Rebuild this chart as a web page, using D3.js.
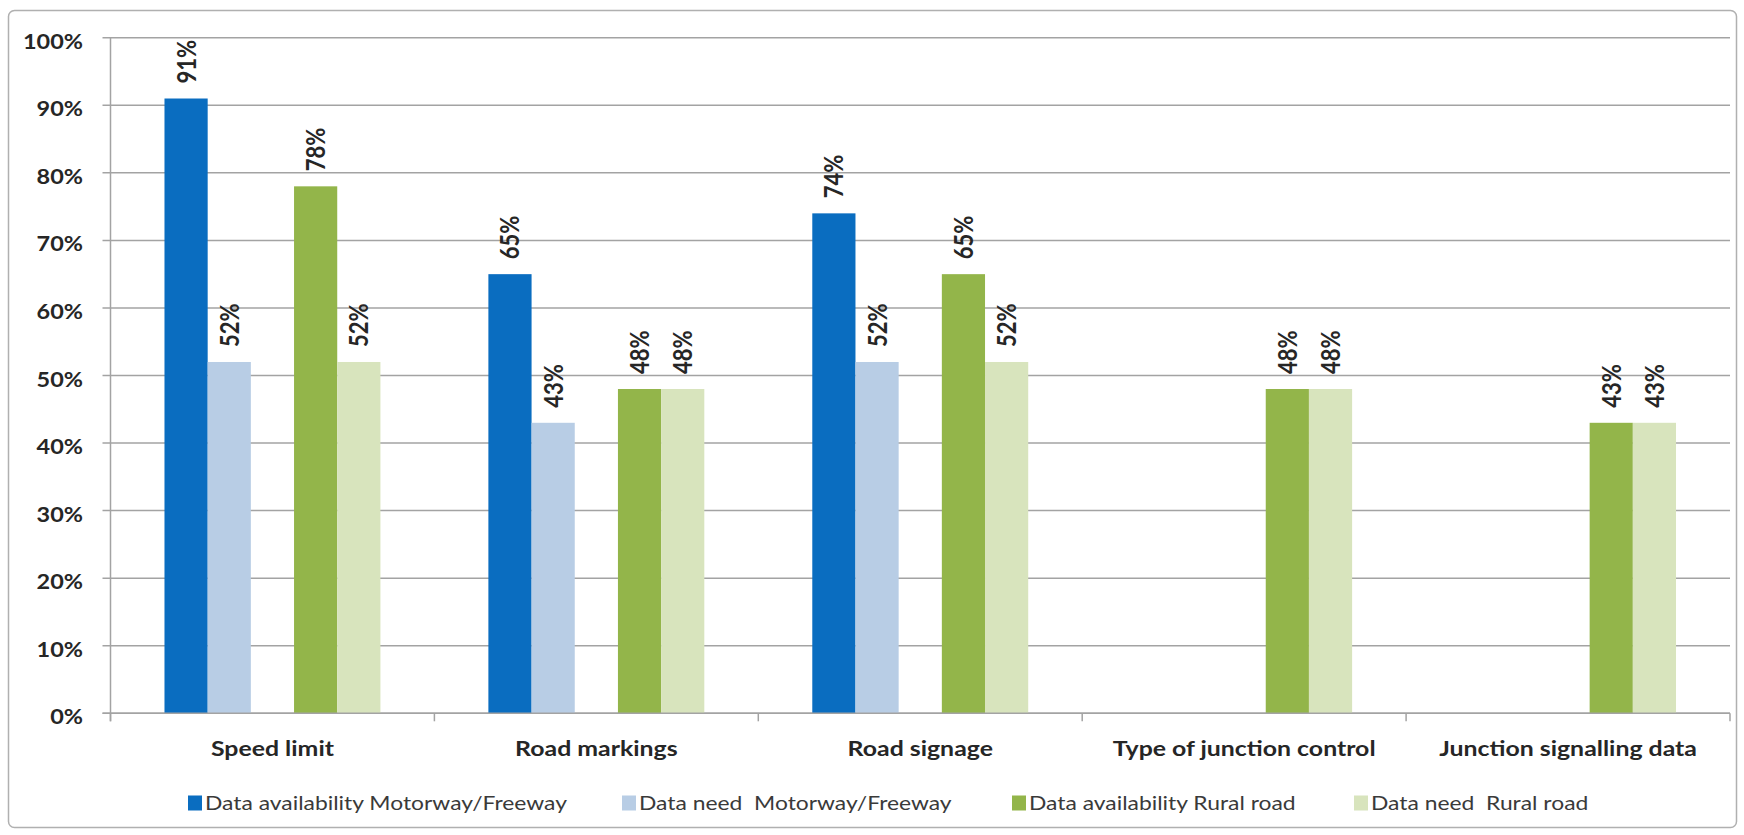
<!DOCTYPE html>
<html>
<head>
<meta charset="utf-8">
<script src="https://cdn.jsdelivr.net/npm/d3@7"></script>
<style>
  html, body { margin: 0; padding: 0; background: #fff; }
  svg { display: block; }
</style>
</head>
<body>
<svg id="chart" width="1744" height="835"></svg>
<script>
// Road data attributes: share of respondents with data available / needed
const categories = ["Speed limit", "Road markings", "Road signage", "Type of junction control", "Junction signalling data"];
const seriesNames = ["Data availability Motorway/Freeway", "Data need  Motorway/Freeway", "Data availability Rural road", "Data need  Rural road"];
const availMotorway = [91, 65, 74, null, null];
const needMotorway  = [52, 43, 52, null, null];
const availRural    = [78, 48, 65, 48, 43];
const needRural     = [52, 48, 52, 48, 43];
const yTicks = [0, 10, 20, 30, 40, 50, 60, 70, 80, 90, 100];
const seriesColors = ["#0a6dc0", "#b8cde5", "#93b54a", "#d8e4bd"];

const seriesValues = [availMotorway, needMotorway, availRural, needRural];
// slot order inside each category; the empty slot separates the two road types
const slots = ["s0", "s1", "gap", "s2", "s3"];
const slotOf = s => ["s0", "s1", "s2", "s3"][s];

const FONT = "Lato, 'Open Sans', sans-serif";
const svg = d3.select("#chart");
const margin = { left: 110.5, right: 1730, top: 37.7, bottom: 713.3 };

// widen a text horizontally so that it spans the given width
function widthFactor(sel, target) {
  const w = sel.node().getComputedTextLength();
  return w > 0 ? target / w : 1;
}

// outer frame
svg.append("rect")
  .attr("x", 8.5).attr("y", 10.5)
  .attr("width", 1728).attr("height", 817)
  .attr("rx", 6)
  .attr("fill", "none").attr("stroke", "#b0b0b0").attr("stroke-width", 1.5);

const x0 = d3.scaleBand().domain(categories).range([margin.left, margin.right]).padding(0);
const x1 = d3.scaleBand().domain(slots).range([0, x0.bandwidth()]).paddingInner(0).paddingOuter(1.25);
const y = d3.scaleLinear().domain([0, 100]).range([margin.bottom, margin.top]);

// horizontal gridlines
svg.append("g").selectAll("line").data(yTicks).join("line")
  .attr("x1", margin.left - 8).attr("x2", margin.right)
  .attr("y1", d => y(d)).attr("y2", d => y(d))
  .attr("stroke", "#a3a3a3").attr("stroke-width", 1.5);

// y axis labels
const yAxis = d3.axisLeft(y).tickValues(yTicks).tickFormat(d => d + "%").tickSize(0);
const gy = svg.append("g").attr("transform", `translate(${margin.left},0)`).call(yAxis);
gy.select(".domain").remove();
const yLabels = gy.selectAll("text")
  .attr("x", 0).attr("dy", null).attr("y", 0)
  .attr("dominant-baseline", "central")
  .attr("font-family", FONT)
  .attr("font-weight", "bold").attr("font-size", 21).attr("fill", "#262626");
const kY = widthFactor(yLabels.filter(d => d === 100), 60);
yLabels.attr("transform", `translate(-27.5,2.5) scale(${kY},1)`);

// vertical axis line
svg.append("line")
  .attr("x1", margin.left).attr("x2", margin.left)
  .attr("y1", margin.top).attr("y2", margin.bottom + 8)
  .attr("stroke", "#a3a3a3").attr("stroke-width", 1.5);

// bars
const bars = [];
categories.forEach((c, ci) => {
  seriesValues.forEach((vals, si) => {
    if (vals[ci] != null) bars.push({ cat: c, s: si, v: vals[ci] });
  });
});

svg.append("g").selectAll("rect").data(bars).join("rect")
  .attr("x", d => x0(d.cat) + x1(slotOf(d.s)))
  .attr("width", x1.bandwidth())
  .attr("y", d => y(d.v))
  .attr("height", d => y(0) - y(d.v))
  .attr("fill", d => seriesColors[d.s]);

// value labels, rotated to read upward
svg.append("g").selectAll("text").data(bars).join("text")
  .attr("transform", d => {
    const cx = x0(d.cat) + x1(slotOf(d.s)) + x1.bandwidth() / 2;
    return `translate(${cx + 9.5},${y(d.v) - 15}) rotate(-90) scale(1,1.25)`;
  })
  .attr("text-anchor", "start")
  .attr("font-family", FONT)
  .attr("font-weight", "bold").attr("font-size", 22).attr("fill", "#262626")
  .text(d => d.v + "%");

// x axis baseline, category ticks and labels
const xAxis = d3.axisBottom(x0).tickSize(0);
const gx = svg.append("g").attr("transform", `translate(0,${margin.bottom})`).call(xAxis);
gx.select(".domain").remove();
const xLabels = gx.selectAll("text")
  .attr("dy", null).attr("y", 0)
  .attr("font-family", FONT)
  .attr("font-weight", "bold").attr("font-size", 20).attr("fill", "#262626");
const kX = widthFactor(xLabels.filter(d => d === "Type of junction control"), 263);
xLabels.attr("transform", `translate(0,43) scale(${kX},1)`);

svg.append("line")
  .attr("x1", margin.left - 8).attr("x2", margin.right)
  .attr("y1", margin.bottom).attr("y2", margin.bottom)
  .attr("stroke", "#a3a3a3").attr("stroke-width", 1.5);

const bounds = categories.map(c => x0(c)).concat([margin.right]);
svg.append("g").selectAll("line").data(bounds).join("line")
  .attr("x1", d => d).attr("x2", d => d)
  .attr("y1", margin.bottom).attr("y2", margin.bottom + 8)
  .attr("stroke", "#a3a3a3").attr("stroke-width", 1.5);

// legend
const legendX = [188, 622, 1012, 1354];
const legend = svg.append("g").selectAll("g").data(seriesNames).join("g")
  .attr("transform", (d, i) => `translate(${legendX[i]},803)`);
legend.append("rect")
  .attr("x", 0).attr("y", -7.5).attr("width", 14).attr("height", 15)
  .attr("fill", (d, i) => seriesColors[i]);
const legendText = legend.append("text")
  .attr("x", 0).attr("y", 0)
  .attr("dominant-baseline", "central")
  .attr("font-family", FONT)
  .attr("font-size", 20).attr("fill", "#3a3a3a")
  .attr("xml:space", "preserve")
  .style("white-space", "pre")
  .text(d => d);
const kL = widthFactor(legendText.filter((d, i) => i === 0), 362);
legendText.attr("transform", `translate(17,0) scale(${kL},1)`);
</script>
</body>
</html>
